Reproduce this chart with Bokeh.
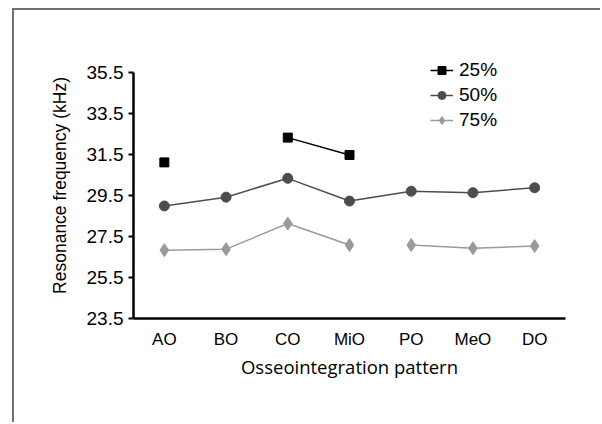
import numpy as np
from bokeh.plotting import figure
from bokeh.models import FactorRange, FixedTicker, Legend, LegendItem, ColumnDataSource
from bokeh.embed import file_html
from bokeh.resources import INLINE

categories = ["AO", "BO", "CO", "MiO", "PO", "MeO", "DO"]
s25 = [31.13, np.nan, 32.34, 31.49, np.nan, np.nan, np.nan]
s50 = [29.00, 29.43, 30.35, 29.24, 29.72, 29.65, 29.89]
s75 = [26.84, 26.89, 28.14, 27.09, 27.09, 26.93, 27.04]
y_ticks = [23.5, 25.5, 27.5, 29.5, 31.5, 33.5, 35.5]

# frame bottom at y=318, 20.5 px per kHz; range extended above 35.5 to host the legend
p = figure(x_range=FactorRange(factors=categories, range_padding=0),
           y_range=(23.5, 36.5), width=588, height=414,
           output_backend="svg", toolbar_location=None,
           min_border_left=119, min_border_right=37,
           min_border_top=42, min_border_bottom=106)
p.margin = (8, 0, 0, 12)
p.styles = {"border-left": "2px solid #707070", "border-top": "2px solid #707070"}
p.outline_line_color = None
p.xgrid.grid_line_color = None
p.ygrid.grid_line_color = None

c25, c50, c75 = "#000000", "#4d4d4d", "#9a9a9a"

src = ColumnDataSource(dict(x=categories, s25=s25, s50=s50, s75=s75))
l25 = p.line("x", "s25", source=src, line_color=c25, line_width=1.5)
m25 = p.scatter("x", "s25", source=src, marker="square", size=9, color=c25)
l50 = p.line("x", "s50", source=src, line_color=c50, line_width=1.5)
m50 = p.scatter("x", "s50", source=src, marker="circle", size=10, color=c50)
srcA = ColumnDataSource(dict(x=categories[:4], y=s75[:4]))
srcB = ColumnDataSource(dict(x=categories[4:], y=s75[4:]))
l75 = p.line("x", "y", source=srcA, line_color=c75, line_width=1.5)
p.line("x", "y", source=srcB, line_color=c75, line_width=1.5)
m75 = p.scatter("x", "s75", source=src, marker="diamond", size=13, color=c75)

legend = Legend(items=[LegendItem(label="25%", renderers=[l25, m25]),
                       LegendItem(label="50%", renderers=[l50, m50]),
                       LegendItem(label="75%", renderers=[l75, m75])],
                location=(297, 187))
legend.border_line_color = None
legend.background_fill_alpha = 0
legend.padding = 0
legend.margin = 0
legend.spacing = 3
legend.glyph_width = 23
legend.glyph_height = 20
legend.label_height = 20
legend.label_standoff = 6
legend.label_text_font = "Liberation Sans"
legend.label_text_font_size = "19px"
legend.label_text_color = "#000000"
p.add_layout(legend, "center")

p.yaxis.bounds = (23.5, 35.5)
p.yaxis.ticker = FixedTicker(ticks=y_ticks)
p.yaxis.major_label_overrides = {t: f"{t:.1f}" for t in y_ticks}
p.yaxis.minor_tick_line_color = None
p.yaxis.major_tick_out = 5
p.yaxis.major_tick_in = 0
p.yaxis.major_tick_line_width = 2
p.yaxis.axis_line_width = 2.5
p.yaxis.axis_line_color = "#000000"
p.yaxis.major_label_text_font = "Liberation Sans"
p.yaxis.major_label_text_font_size = "19px"
p.yaxis.major_label_text_color = "#000000"
p.yaxis.major_label_standoff = 5
p.yaxis.axis_label = "Resonance frequency (kHz)"
p.yaxis.axis_label_text_font = "Liberation Sans"
p.yaxis.axis_label_text_font_style = "normal"
p.yaxis.axis_label_text_font_size = "17.5px"
p.yaxis.axis_label_text_color = "#000000"
p.yaxis.axis_label_standoff = 14

p.xaxis.axis_line_width = 2.5
p.xaxis.axis_line_color = "#000000"
p.xaxis.major_tick_line_color = None
p.xaxis.major_label_text_font = "Liberation Sans"
p.xaxis.major_label_text_font_size = "17px"
p.xaxis.major_label_text_color = "#000000"
p.xaxis.major_label_standoff = 5
p.xaxis.axis_label = "Osseointegration pattern"
p.xaxis.axis_label_text_font = "Open Sans"
p.xaxis.axis_label_text_font_style = "normal"
p.xaxis.axis_label_text_font_size = "18.5px"
p.xaxis.axis_label_text_color = "#000000"
p.xaxis.axis_label_standoff = 2

open("out.html", "w").write(file_html(p, INLINE))
